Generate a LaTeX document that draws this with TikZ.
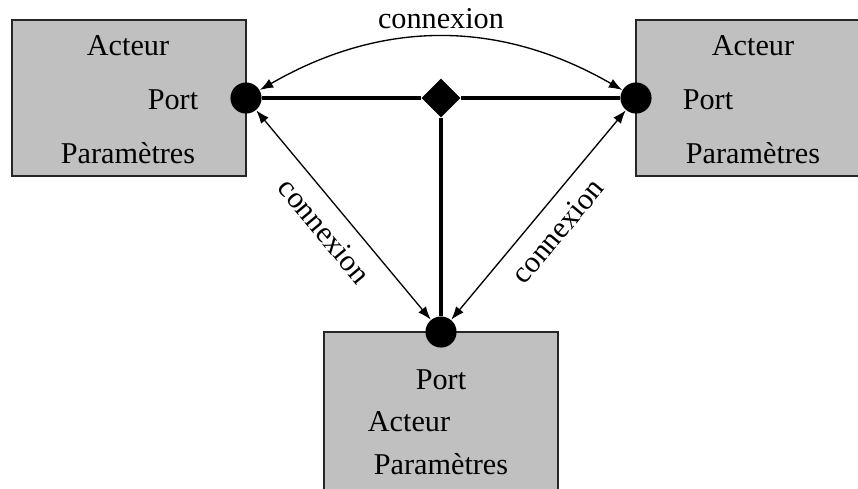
\documentclass[tikz,border=0pt]{standalone}
\usepackage{fontspec}
\setmainfont{Liberation Serif}
\usetikzlibrary{shapes.geometric,arrows.meta}
\definecolor{boxgray}{RGB}{192,192,192}
\begin{document}
\begin{tikzpicture}[x=0.45pt,y=-0.45pt,font=\fontsize{13.6}{16}\selectfont]
    \tikzstyle{acteur}=[draw=black!85,fill=boxgray,line width=0.6pt,minimum width=105.3pt,minimum height=70.2pt]
    \tikzstyle{port}=[circle,fill=black,inner sep=0pt,minimum size=14pt]
    \tikzstyle{jonction}=[diamond,fill=black,inner sep=0pt,minimum size=17.6pt]
    \tikzstyle{lien}=[line width=1.8pt]
    \tikzstyle{cnx}=[line width=0.6pt,>={Latex[length=6pt,width=4.4pt]},<->]

    \useasboundingbox (0,0) rectangle (858,488);
    \clip (0,0) rectangle (858,488);

    % acteurs
    \node[acteur] (gauche) at (129,98) {};
    \node[acteur] (droite) at (753,98) {};
    \node[acteur,minimum height=80pt] (bas) at (441,421) {};

    \node (gacteur) at (128,46) {Acteur};
    \node (gport-t) at (173,100) {Port};
    \node (gparam) at (128,153) {Paramètres};

    \node (dacteur) at (753,46) {Acteur};
    \node (dport-t) at (708,100) {Port};
    \node (dparam) at (753,153) {Paramètres};

    \node (bport-t) at (441,380) {Port};
    \node (bacteur) at (409,422) {Acteur};
    \node (bparam) at (441,464) {Paramètres};

    % ports et relation
    \node[port] (gport) at (246,98) {};
    \node[port] (dport) at (636,98) {};
    \node[port] (bport) at (441,332) {};
    \node[jonction] (jct) at (441,98) {};

    \draw[lien] (gport) -- (jct) -- (dport);
    \draw[lien] (jct) -- (bport);

    % connexions
    \draw[cnx] (gport) to[bend left=30] node[above] {connexion} (dport);
    \draw[cnx] (gport) -- node[sloped,below=3pt] {connexion} (bport);
    \draw[cnx] (bport) -- node[sloped,below=3pt] {connexion} (dport);
\end{tikzpicture}
\end{document}
